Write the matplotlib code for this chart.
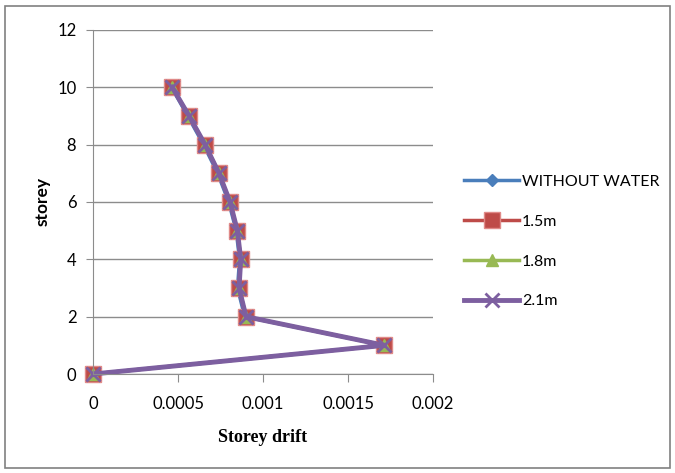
import numpy as np
import matplotlib.pyplot as plt
from matplotlib.patches import Rectangle

# storey drift values
storey = [0, 1, 2, 3, 4, 5, 6, 7, 8, 9, 10]
drift_without_water = [0, 0.001712, 0.000892, 0.000850, 0.000862, 0.000842, 0.000798, 0.000733, 0.000650, 0.000557, 0.000462]
drift_15 = [0, 0.001714, 0.000900, 0.000859, 0.000869, 0.000849, 0.000806, 0.000741, 0.000659, 0.000565, 0.000466]
drift_18 = [0, 0.001714, 0.000900, 0.000859, 0.000869, 0.000849, 0.000806, 0.000741, 0.000659, 0.000565, 0.000466]
drift_21 = [0, 0.001714, 0.000900, 0.000859, 0.000869, 0.000849, 0.000806, 0.000741, 0.000659, 0.000565, 0.000466]

xticks = [0, 0.0005, 0.001, 0.0015, 0.002]
xtick_labels = ['0', '0.0005', '0.001', '0.0015', '0.002']
yticks = [0, 2, 4, 6, 8, 10, 12]

plt.rcParams['font.family'] = ['Lato', 'DejaVu Sans']

fig = plt.figure(figsize=(6.75, 4.73), dpi=100)
fig.patches.append(Rectangle((0.007, 0.01), 0.986, 0.978, transform=fig.transFigure,
                             fill=False, edgecolor='#808080', linewidth=1.2))
ax = fig.add_axes([0.1378, 0.2093, 0.5037, 0.7273])

ax.plot(drift_without_water, storey, color='#4a7ebb', marker='D', markersize=6,
        linewidth=2.5, label='WITHOUT WATER', clip_on=False)
ax.plot(drift_15, storey, color='#be4b48', marker='s', markersize=11,
        markeredgecolor='#e08a88', linewidth=2.5, label='1.5m', clip_on=False)
ax.plot(drift_18, storey, color='#98b954', marker='^', markersize=9,
        linewidth=2.5, label='1.8m', clip_on=False)
ax.plot(drift_21, storey, color='#7d5fa0', marker='x', markersize=10,
        markeredgewidth=2, linewidth=3.5, label='2.1m', clip_on=False)

ax.set_xlim(0, 0.002)
ax.set_ylim(0, 12)
ax.set_xticks(xticks)
ax.set_xticklabels(xtick_labels)
ax.set_yticks(yticks)
ax.yaxis.grid(True, color='#8c8c8c', linewidth=1)
ax.set_axisbelow(True)
for s in ['top', 'right']:
    ax.spines[s].set_visible(False)
for s in ['left', 'bottom']:
    ax.spines[s].set_color('#8c8c8c')
ax.tick_params(axis='x', length=6, color='#8c8c8c', pad=10, labelsize=12)
ax.tick_params(axis='y', length=5, color='#8c8c8c', pad=7, labelsize=12)

ax.set_xlabel('Storey drift', family='Liberation Serif', fontweight='bold', fontsize=13, labelpad=12)
ax.set_ylabel('storey', fontweight='bold', fontsize=12.5, labelpad=5)

ax.legend(loc='center left', bbox_to_anchor=(1.05, 0.385), frameon=False, fontsize=11.5,
          labelspacing=1.6, handlelength=3.4, handletextpad=0.2)

fig.savefig('out.png', dpi=100)
